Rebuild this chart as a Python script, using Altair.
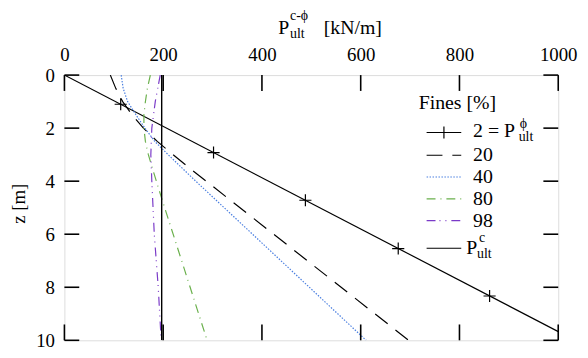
import altair as alt
import pandas as pd

# ---- data ----
x_ticks = [0, 200, 400, 600, 800, 1000]
z_ticks = [0, 2, 4, 6, 8, 10]

phi_z = [0, 10]
phi_p = [0, 1034]
phi_marker_z = [1.1, 2.92, 4.72, 6.54, 8.33]
phi_marker_p = [114, 302, 488, 676, 861]

f20_z = [0, 0.5, 1.0, 1.5, 2.0, 2.5, 3.0, 3.5, 10]
f20_p = [93, 104, 118, 137, 160, 188, 220, 253, 697]
f40_z = [0, 0.5, 1.0, 1.5, 2.0, 2.5, 3.0, 4.0, 10]
f40_p = [115, 119, 128, 145, 163, 183, 210, 266, 611]
f80_z = [0, 0.5, 1.0, 1.5, 2.0, 2.5, 3.0, 3.5, 4.65, 10]
f80_p = [174, 168, 164, 161, 161, 164, 170, 178, 197, 289]
f98_z = [0, 1, 2, 3, 4, 6, 8, 10]
f98_p = [194, 184, 177, 175, 177, 182, 190, 196]
pc_z = [0, 10]
pc_p = [197, 197]

legend_labels = ["20", "40", "80", "98"]

W, H = 499, 268
FONT = "Liberation Serif"

xs = alt.Scale(domain=[0, 1000], nice=False, zero=False)
ys = alt.Scale(domain=[0, 10], reverse=True, nice=False, zero=False)
xaxis = alt.Axis(orient="top", values=x_ticks, ticks=False, tickSize=0, domain=False, grid=False,
                 labelFont=FONT, labelFontSize=19, labelColor="black", labelPadding=11,
                 labelFlush=False, labelOverlap=False, format="d", title=None)
yaxis = alt.Axis(orient="left", values=z_ticks, ticks=False, tickSize=0, domain=False, grid=False,
                 labelFont=FONT, labelFontSize=19, labelColor="black", labelPadding=10,
                 labelFlush=False, labelOverlap=False, format="d", title=None)
X = alt.X("p:Q", scale=xs, axis=xaxis, title=None)
Y = alt.Y("z:Q", scale=ys, axis=yaxis, title=None)


def line(zs, ps, color, dash=None, width=1.2):
    df = pd.DataFrame({"z": zs, "p": ps, "o": list(range(len(zs)))})
    kw = dict(color=color, strokeWidth=width, clip=True)
    if dash:
        kw["strokeDash"] = dash
    return alt.Chart(df).mark_line(**kw).encode(x=X, y=Y, order="o:Q")


layers = []
layers.append(line(phi_z, phi_p, "black"))
layers.append(line(f20_z, f20_p, "black", [16, 10]))
layers.append(line(f40_z, f40_p, "#4a7fe0", [1.5, 1.5]))
layers.append(line(f80_z, f80_p, "#6ab04c", [9, 5, 1, 5]))
layers.append(line(f98_z, f98_p, "#7a3ac8", [9, 4, 1, 5, 1, 5]))
layers.append(line(pc_z, pc_p, "black", width=1.4))

plus = "M0,-1L0,1M-1,0L1,0"
mk = pd.DataFrame({"z": phi_marker_z, "p": phi_marker_p})
layers.append(alt.Chart(mk).mark_point(shape=plus, size=150, filled=False, color="black",
                                        strokeWidth=1.2, opacity=1).encode(x=X, y=Y))

# inward ticks on all four sides
xt = pd.DataFrame({"p": x_ticks})
zt = pd.DataFrame({"z": z_ticks})
tick_style = dict(color="black", strokeWidth=1.6)
layers.append(alt.Chart(xt).mark_rule(**tick_style).encode(x=X, y=alt.value(0), y2=alt.value(16)))
layers.append(alt.Chart(xt).mark_rule(**tick_style).encode(x=X, y=alt.value(H - 16), y2=alt.value(H)))
layers.append(alt.Chart(zt).mark_rule(**tick_style).encode(y=Y, x=alt.value(0), x2=alt.value(15)))
layers.append(alt.Chart(zt).mark_rule(**tick_style).encode(y=Y, x=alt.value(W - 15), x2=alt.value(W)))

one = pd.DataFrame({"a": [0]})


def txt(t, x, y, size=19, baseline="middle", align="left", angle=0):
    kw = dict(text=t, font=FONT, fontSize=size, color="black", baseline=baseline, align=align)
    if angle:
        kw["angle"] = angle
    return alt.Chart(one).mark_text(**kw).encode(x=alt.value(x), y=alt.value(y))


def sym(y, dash=None, color="black"):
    kw = dict(color=color, strokeWidth=1.2)
    if dash:
        kw["strokeDash"] = dash
    return alt.Chart(one).mark_rule(**kw).encode(x=alt.value(366), x2=alt.value(401), y=alt.value(y))


# axis titles
layers.append(txt("P", 216, -42, size=20, baseline="alphabetic"))
layers.append(txt("ult", 228, -37, size=14, baseline="alphabetic"))
layers.append(txt("c-ϕ", 228, -56, size=14, baseline="alphabetic"))
layers.append(txt("[kN/m]", 262, -42, size=20, baseline="alphabetic"))
layers.append(txt("z [m]", -46, 130, size=19, align="center", angle=270))

# legend
layers.append(txt("Fines [%]", 358, 28, size=20))
layers.append(sym(58))
layers.append(alt.Chart(one).mark_point(shape=plus, size=150, filled=False, color="black",
                                         strokeWidth=1.2, opacity=1).encode(x=alt.value(383.5), y=alt.value(58)))
layers.append(txt("2 = P", 413, 57, size=20))
layers.append(txt("ult", 459, 63, size=14))
layers.append(txt("ϕ", 460, 49, size=14))
dashes = [[16, 10], [1.5, 1.5], [9, 5, 1, 5], [9, 4, 1, 5, 1, 5]]
colors = ["black", "#4a7fe0", "#6ab04c", "#7a3ac8"]
rows = [81, 103, 125, 147]
for lab, d, c, r in zip(legend_labels, dashes, colors, rows):
    layers.append(sym(r, d, c))
    layers.append(txt(lab, 413, r, size=20))
layers.append(sym(175))
layers.append(txt("P", 406, 175, size=20))
layers.append(txt("ult", 417, 181, size=14))
layers.append(txt("c", 419, 165, size=14))

chart = alt.layer(*layers).properties(
    width=W, height=H,
    autosize=alt.AutoSizeParams(type="none"),
    padding={"left": 57, "top": 66, "right": 22, "bottom": 8},
).configure_view(stroke="black", strokeWidth=1.6).configure(background="white")

chart.save("out.html", embed_options={"renderer": "svg", "actions": False})
